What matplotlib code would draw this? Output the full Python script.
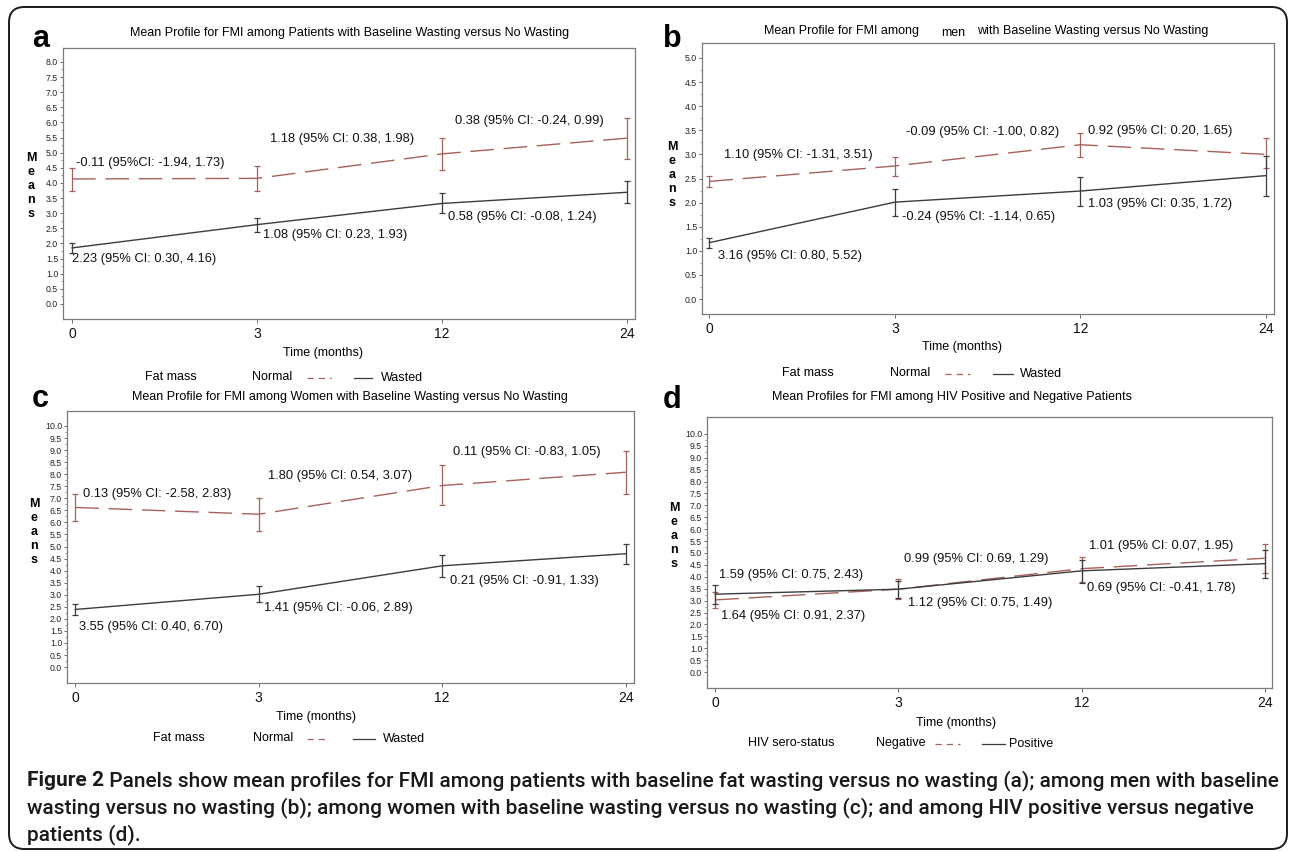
import matplotlib
matplotlib.use("Agg")
import matplotlib.pyplot as plt
from matplotlib.lines import Line2D
from matplotlib.patches import FancyBboxPatch
from matplotlib.ticker import FormatStrFormatter

# ---------------- data ----------------
times = ["0", "3", "12", "24"]

a_normal_mean = [4.13, 4.15, 4.96, 5.48]
a_normal_lo = [3.73, 3.73, 4.42, 4.79]
a_normal_hi = [4.50, 4.55, 5.48, 6.16]
a_wasted_mean = [1.85, 2.62, 3.32, 3.69]
a_wasted_lo = [1.69, 2.38, 2.99, 3.32]
a_wasted_hi = [2.00, 2.85, 3.65, 4.06]
a_notes = ["-0.11 (95%CI: -1.94, 1.73)", "1.18 (95% CI: 0.38, 1.98)", "0.38 (95% CI: -0.24, 0.99)",
           "2.23 (95% CI: 0.30, 4.16)", "1.08 (95% CI: 0.23, 1.93)", "0.58 (95% CI: -0.08, 1.24)"]

b_normal_mean = [2.44, 2.76, 3.20, 3.00]
b_normal_lo = [2.33, 2.56, 2.95, 2.71]
b_normal_hi = [2.56, 2.95, 3.45, 3.35]
b_wasted_mean = [1.17, 2.01, 2.24, 2.56]
b_wasted_lo = [1.05, 1.72, 1.93, 2.14]
b_wasted_hi = [1.27, 2.29, 2.53, 2.96]
b_notes = ["1.10 (95% CI: -1.31, 3.51)", "-0.09 (95% CI: -1.00, 0.82)", "0.92 (95% CI: 0.20, 1.65)",
           "3.16 (95% CI: 0.80, 5.52)", "-0.24 (95% CI: -1.14, 0.65)", "1.03 (95% CI: 0.35, 1.72)"]

c_normal_mean = [6.62, 6.34, 7.53, 8.08]
c_normal_lo = [6.04, 5.65, 6.71, 7.18]
c_normal_hi = [7.18, 7.03, 8.36, 8.96]
c_wasted_mean = [2.39, 3.02, 4.20, 4.70]
c_wasted_lo = [2.17, 2.69, 3.73, 4.28]
c_wasted_hi = [2.61, 3.36, 4.63, 5.11]
c_notes = ["0.13 (95% CI: -2.58, 2.83)", "1.80 (95% CI: 0.54, 3.07)", "0.11 (95% CI: -0.83, 1.05)",
           "3.55 (95% CI: 0.40, 6.70)", "1.41 (95% CI: -0.06, 2.89)", "0.21 (95% CI: -0.91, 1.33)"]

d_negative_mean = [3.03, 3.48, 4.34, 4.78]
d_negative_lo = [2.69, 3.08, 3.80, 4.15]
d_negative_hi = [3.38, 3.92, 4.83, 5.37]
d_positive_mean = [3.27, 3.48, 4.25, 4.55]
d_positive_lo = [2.85, 3.10, 3.76, 3.94]
d_positive_hi = [3.64, 3.83, 4.71, 5.13]
d_notes = ["1.59 (95% CI: 0.75, 2.43)", "0.99 (95% CI: 0.69, 1.29)", "1.01 (95% CI: 0.07, 1.95)",
           "1.64 (95% CI: 0.91, 2.37)", "1.12 (95% CI: 0.75, 1.49)", "0.69 (95% CI: -0.41, 1.78)"]

titles = ["Mean Profile for FMI among Patients with Baseline Wasting versus No Wasting",
          None,
          "Mean Profile for FMI among Women with Baseline Wasting versus No Wasting",
          "Mean Profiles for FMI among HIV Positive and Negative Patients"]
b_title_parts = ["Mean Profile for FMI among", "men", "with Baseline Wasting versus No Wasting"]
legend_titles = ["Fat mass", "Fat mass", "Fat mass", "HIV sero-status"]
legend_names = [["Normal", "Wasted"], ["Normal", "Wasted"], ["Normal", "Wasted"], ["Negative", "Positive"]]

caption_bold = "Figure 2"
caption_lines = [" Panels show mean profiles for FMI among patients with baseline fat wasting versus no wasting (a); among men with baseline",
                 "wasting versus no wasting (b); among women with baseline wasting versus no wasting (c); and among HIV positive versus negative",
                 "patients (d)."]

# ---------------- layout / style ----------------
W, H = 1290, 852
FONT = ["Liberation Sans", "DejaVu Sans"]
plt.rcParams["font.family"] = FONT
RED = "#a8605a"
BLK = "#3c3c3c"


def fx(x):
    return x / W


def fy(y):
    return 1 - y / H


fig = plt.figure(figsize=(W / 100, H / 100), dpi=100)

panels = [
    dict(frame=(63, 635, 48, 319), xlim=(-0.049, 3.043), ylim=(-0.50, 8.46), ymax=8.0,
         series=(a_normal_mean, a_normal_lo, a_normal_hi, a_wasted_mean, a_wasted_lo, a_wasted_hi),
         notes=a_notes,
         note_pos=[(0.02, 4.65), (1.07, 5.44), (2.07, 6.06), (0.0, 1.47), (1.03, 2.29), (2.03, 2.87)],
         letter=("a", 32, 47), title_xy=(350, 33), means=(31, 186), xlabel=(323, 353),
         leg=dict(y=377, title_x=171, n1=252, dash=(307, 331), solid=(354, 372), n2=381)),
    dict(frame=(702, 1274, 43, 314), xlim=(-0.04, 3.043), ylim=(-0.31, 5.31), ymax=5.0,
         series=(b_normal_mean, b_normal_lo, b_normal_hi, b_wasted_mean, b_wasted_lo, b_wasted_hi),
         notes=b_notes,
         note_pos=[(0.08, 2.98), (1.06, 3.47), (2.04, 3.48), (0.045, 0.89), (1.04, 1.71), (2.04, 1.98)],
         letter=("b", 663, 47), title_xy=None, means=(672, 175), xlabel=(962, 347),
         leg=dict(y=373, title_x=808, n1=890, dash=(945, 970), solid=(993, 1013), n2=1020)),
    dict(frame=(67, 634, 411, 683), xlim=(-0.045, 3.045), ylim=(-0.66, 10.62), ymax=10.0,
         series=(c_normal_mean, c_normal_lo, c_normal_hi, c_wasted_mean, c_wasted_lo, c_wasted_hi),
         notes=c_notes,
         note_pos=[(0.04, 7.18), (1.05, 7.93), (2.06, 8.90), (0.02, 1.66), (1.03, 2.43), (2.04, 3.56)],
         letter=("c", 32, 407), title_xy=(350, 397), means=(34, 532), xlabel=(316, 717),
         leg=dict(y=738, title_x=179, n1=253, dash=(307, 329), solid=(353, 375), n2=383)),
    dict(frame=(707, 1272, 417, 688), xlim=(-0.045, 3.04), ylim=(-0.67, 10.71), ymax=10.0,
         series=(d_negative_mean, d_negative_lo, d_negative_hi, d_positive_mean, d_positive_lo, d_positive_hi),
         notes=d_notes,
         note_pos=[(0.02, 4.08), (1.03, 4.74), (2.04, 5.30), (0.03, 2.36), (1.05, 2.92), (2.03, 3.52)],
         letter=("d", 663, 408), title_xy=(952, 397), means=(674, 536), xlabel=(956, 723),
         leg=dict(y=743, title_x=791, n1=876, dash=(935, 960), solid=(982, 1005), n2=1009)),
]

for i, p in enumerate(panels):
    L, R, T, B = p["frame"]
    ax = fig.add_axes([fx(L), fy(B), (R - L) / W, (B - T) / H])
    x = list(range(len(times)))
    nm, nlo, nhi, wm, wlo, whi = p["series"]
    # red dashed series (Normal / Negative)
    ax.errorbar(x, nm, yerr=[[m - l for m, l in zip(nm, nlo)], [h - m for m, h in zip(nm, nhi)]],
                color=RED, lw=1.0, elinewidth=0.9, capsize=2.2, capthick=0.9,
                dashes=(17, 7), zorder=3)
    # dark solid series (Wasted / Positive)
    ax.errorbar(x, wm, yerr=[[m - l for m, l in zip(wm, wlo)], [h - m for m, h in zip(wm, whi)]],
                color=BLK, lw=1.0, elinewidth=0.9, capsize=2.2, capthick=0.9, zorder=4)
    for txt, (tx, ty) in zip(p["notes"], p["note_pos"]):
        ax.text(tx, ty, txt, fontsize=9.3, ha="left", va="center", color="#111111")
    ax.set_xlim(*p["xlim"])
    ax.set_ylim(*p["ylim"])
    ax.set_xticks(x)
    ax.set_xticklabels(times)
    ax.set_yticks([v * 0.5 for v in range(int(p["ymax"] * 2) + 1)])
    ax.set_yticks([v * 0.5 + 0.25 for v in range(int(p["ymax"] * 2))], minor=True)
    ax.yaxis.set_major_formatter(FormatStrFormatter("%.1f"))
    ax.tick_params(axis="y", which="major", labelsize=6.3, length=2.5, width=0.6, pad=1,
                   color="#555555", labelcolor="#222222")
    ax.tick_params(axis="y", which="minor", length=1.5, width=0.5, color="#777777")
    ax.tick_params(axis="x", labelsize=10, length=3, width=0.6, pad=3, color="#555555",
                   labelcolor="#111111")
    for s in ax.spines.values():
        s.set_color("#7a7a7a")
        s.set_linewidth(0.9)

    # panel letter
    letter, lx, ly = p["letter"]
    fig.text(fx(lx), fy(ly), letter, fontsize=22, fontweight="bold", ha="left", va="baseline")
    # title
    if p["title_xy"] is not None:
        fig.text(fx(p["title_xy"][0]), fy(p["title_xy"][1]), titles[i], fontsize=9,
                 ha="center", va="center")
    else:
        fig.text(fx(764), fy(31), b_title_parts[0], fontsize=9, ha="left", va="center")
        fig.text(fx(941), fy(33), b_title_parts[1], fontsize=9, ha="left", va="center")
        fig.text(fx(977), fy(31), b_title_parts[2], fontsize=9, ha="left", va="center")
    # y label stacked letters
    fig.text(fx(p["means"][0]), fy(p["means"][1]), "M\ne\na\nn\ns", fontsize=9,
             fontweight="bold", ha="center", va="center", linespacing=1.22, multialignment="center")
    # x label
    fig.text(fx(p["xlabel"][0]), fy(p["xlabel"][1]), "Time (months)", fontsize=9,
             ha="center", va="center")
    # legend
    lg = p["leg"]
    fig.text(fx(lg["title_x"]), fy(lg["y"]), legend_titles[i], fontsize=9, ha="center", va="center")
    fig.text(fx(lg["n1"]), fy(lg["y"]), legend_names[i][0], fontsize=9, ha="left", va="center")
    fig.add_artist(Line2D([fx(lg["dash"][0]), fx(lg["dash"][1])], [fy(lg["y"] + 1)] * 2,
                          transform=fig.transFigure, color=RED, lw=0.9, dashes=(5, 4)))
    fig.add_artist(Line2D([fx(lg["solid"][0]), fx(lg["solid"][1])], [fy(lg["y"] + 1)] * 2,
                          transform=fig.transFigure, color=BLK, lw=0.9))
    fig.text(fx(lg["n2"]), fy(lg["y"] + 1), legend_names[i][1], fontsize=9, ha="left", va="center")

# caption, size fitted so that the first line spans the reference width
CAP_FONT = ["Roboto", "Open Sans", "DejaVu Sans"]
cap_y = [781, 808, 835]
cap_left, cap_right = 27, 1277
renderer = fig.canvas.get_renderer()


def draw_caption(size):
    arts = []
    tb = fig.text(fx(cap_left), fy(cap_y[0]), caption_bold, fontsize=size, fontweight="bold",
                  family=CAP_FONT, ha="left", va="center", color="#1a1a1a")
    bb = tb.get_window_extent(renderer=renderer)
    t1 = fig.text(bb.x1 / W, fy(cap_y[0]), caption_lines[0], fontsize=size, family=CAP_FONT,
                  fontweight="medium", ha="left", va="center", color="#1a1a1a")
    arts += [tb, t1]
    for k in (1, 2):
        arts.append(fig.text(fx(cap_left), fy(cap_y[k]), caption_lines[k], fontsize=size,
                             family=CAP_FONT, fontweight="medium", ha="left", va="center",
                             color="#1a1a1a"))
    return arts, t1


size0 = 12.0
arts, t1 = draw_caption(size0)
right = t1.get_window_extent(renderer=renderer).x1
scale = (cap_right - cap_left) / (right - cap_left)
for a in arts:
    a.remove()
draw_caption(size0 * scale)

# rounded outer border
border = FancyBboxPatch((fx(9), fy(849)), (1287 - 9) / W, (849 - 7) / H,
                        boxstyle="round,pad=0,rounding_size=0.012",
                        transform=fig.transFigure, fill=False, ec="#1a1a1a", lw=1.4,
                        mutation_aspect=W / H)
fig.add_artist(border)

fig.savefig("out.png", dpi=100)
